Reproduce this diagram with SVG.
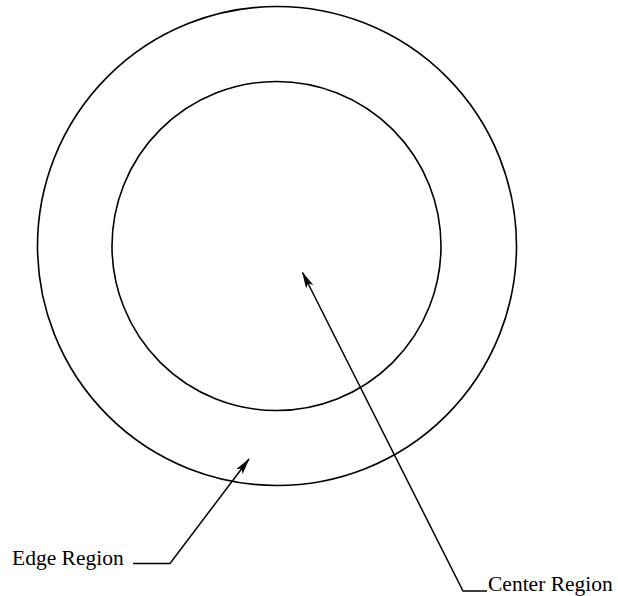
<svg xmlns="http://www.w3.org/2000/svg" width="618" height="596" viewBox="0 0 618 596">
<style>
.ring{fill:none;stroke:#000;stroke-width:1.6}
.lead{fill:none;stroke:#000;stroke-width:1.5}
.lbl{font-family:"Liberation Serif","Times New Roman",serif;font-size:21.5px;fill:#000}
</style>
<defs>
<marker id="ah" viewBox="0 0 17 8" refX="16" refY="4" markerWidth="17" markerHeight="8" markerUnits="userSpaceOnUse" orient="auto">
<path d="M0,0 L17,4 L0,8 L4,4 z" fill="#000"/>
</marker>
</defs>
<rect width="618" height="596" fill="#fff"/>
<g id="outer-circle"><circle class="ring" cx="277" cy="246" r="239.5"/></g>
<g id="inner-circle"><circle class="ring" cx="276.5" cy="246" r="164.5"/></g>
<g id="connectors">
<path class="lead" d="M133,563.5 L170,563.5 L249,459" marker-end="url(#ah)"/>
<path class="lead" d="M487,591 L463,591 L302.5,272.5" marker-end="url(#ah)"/>
</g>
<g id="edge-label"><text class="lbl" x="12" y="565">Edge Region</text></g>
<g id="center-label"><text class="lbl" x="488" y="591">Center Region</text></g>
</svg>
